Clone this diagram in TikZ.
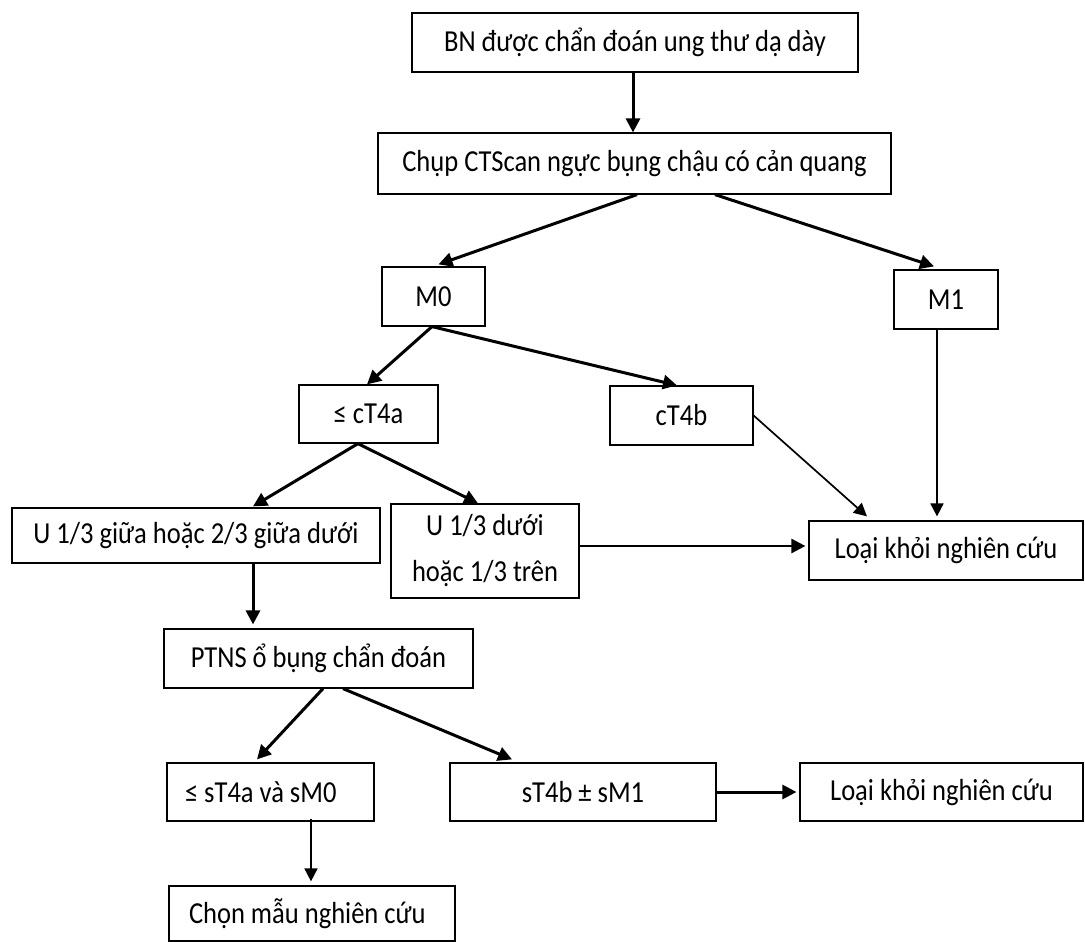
\documentclass[tikz,border=0pt]{standalone}
\usepackage{fontspec}
\setmainfont{Carlito}[FakeStretch=0.87]
\usetikzlibrary{arrows.meta,calc}

\begin{document}
\begin{tikzpicture}[x=1pt,y=1pt,yscale=-1,
  flowbox/.style={draw,line width=1.2pt,inner sep=0pt,align=center,
    font=\fontsize{30.5}{36}\selectfont},
  heavy/.style={line width=3pt,-{Triangle[length=14pt,width=14pt]}},
  light/.style={line width=1.7pt,-{Triangle[length=13pt,width=13pt]}}]
\useasboundingbox (0,0) rectangle (1085,942);

% Boxes
\node (bn) [flowbox,minimum width=446,minimum height=59] at (635,42.5) {BN được chẩn đoán ung thư dạ dày};
\node (ct) [flowbox,minimum width=513,minimum height=61] at (634.5,163.5) {Chụp CTScan ngực bụng chậu có cản quang};
\node (m0) [flowbox,minimum width=103,minimum height=59] at (433.5,296.5) {M0};
\node (m1) [flowbox,minimum width=104,minimum height=59] at (946,299.5) {M1};
\node (t4a) [flowbox,minimum width=139,minimum height=58] at (368.5,414) {≤ cT4a};
\node (t4b) [flowbox,minimum width=143,minimum height=59] at (681.5,415.5) {cT4b};
\node (ugiua) [flowbox,minimum width=368,minimum height=55] at (196,535.5) {U 1/3 giữa hoặc 2/3 giữa dưới};
\node (uduoi) [flowbox,minimum width=188,minimum height=94,font=\fontsize{30.5}{46}\selectfont] at (485,551) {U 1/3 dưới\\hoặc 1/3 trên};
\node (loai1) [flowbox,minimum width=274,minimum height=59] at (946,550.5) {Loại khỏi nghiên cứu};
\node (ptns) [flowbox,minimum width=309,minimum height=59] at (318.5,658.5) {PTNS ổ bụng chẩn đoán};
\node (st4a) [flowbox,minimum width=207,minimum height=58] at (270.5,792) {\makebox[171pt][l]{≤ sT4a và sM0}};
\node (st4b) [flowbox,minimum width=266,minimum height=58] at (583,792) {sT4b ± sM1};
\node (loai2) [flowbox,minimum width=283,minimum height=58] at (941.5,792) {Loại khỏi nghiên cứu};
\node (chon) [flowbox,minimum width=286,minimum height=55] at (312,913.5) {\makebox[246pt][l]{Chọn mẫu nghiên cứu}};

% Arrows
\draw [heavy] ($(bn.south)+(-2,0)$) -- ($(ct.north)+(-1.5,0)$);
\draw [heavy] ($(ct.south)+(2.5,0)$) -- ($(m0.north)+(5,-2)$);
\draw [heavy] ($(ct.south)+(80.5,0)$) -- ($(m1.north)+(-12,-3)$);
\draw [heavy] ($(m0.south)+(-1.5,0)$) -- ($(t4a.north)+(-1.5,0)$);
\draw [heavy] ($(m0.south)+(-1.5,0)$) -- ($(t4b.north)+(-4.5,0)$);
\draw [heavy] ($(t4a.south)+(-10.5,0)$) -- ($(ugiua.north)+(57,-1)$);
\draw [heavy] ($(t4a.south)+(-10.5,0)$) -- ($(uduoi.north)+(-7,0)$);
\draw [heavy] ($(ugiua.south)+(57,0)$) -- ($(ptns.north)+(-65.5,-4)$);
\draw [heavy,line width=2.6pt] ($(uduoi.east)+(0,-5)$) -- ($(loai1.west)+(-3,-4.5)$);
\draw [light] (t4b.east) -- ($(loai1.north)+(-79,-4)$);
\draw [light] ($(m1.south)+(-9,0)$) -- ($(loai1.north)+(-9,-4)$);
\draw [heavy] ($(ptns.south)+(4.5,0)$) -- ($(st4a.north)+(-13.5,-3)$);
\draw [heavy] ($(ptns.south)+(24.5,0)$) -- ($(st4b.north)+(-71,-3)$);
\draw [heavy] (st4b.east) -- ($(loai2.west)+(-3,0)$);
\draw [light] ($(st4a.south)+(40.5,-3)$) -- ($(chon.north)+(-1,-4)$);
\end{tikzpicture}
\end{document}
